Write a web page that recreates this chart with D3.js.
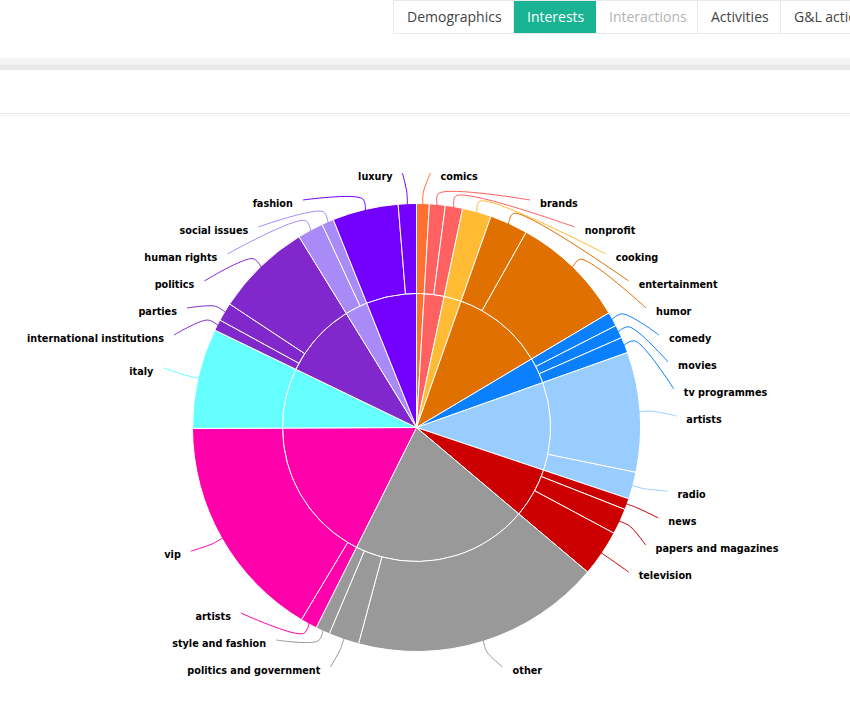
<!DOCTYPE html>
<html>
<head>
<meta charset="utf-8">
<script src="https://cdn.jsdelivr.net/npm/d3@7"></script>
<style>
  html, body { margin:0; padding:0; background:#fff; width:850px; height:718px; overflow:hidden; }
  #tabs { position:absolute; left:393px; top:0; height:32px; display:flex; border:1px solid #e7eaec; border-right:none; font-family:"Open Sans", sans-serif; font-size:14px; }
  #tabs div { box-sizing:border-box; height:32px; line-height:32px; padding-left:13px; border-right:1px solid #e7eaec; color:#444; white-space:nowrap; overflow:hidden; }
  #tabs div.active { background:#1ab394; color:#fff; border-right-color:#1ab394; }
  #tabs div.disabled { color:#b3b3b3; }
  #band1 { position:absolute; left:0; top:58px; width:850px; height:7px; background:#f3f3f4; }
  #band2 { position:absolute; left:0; top:65px; width:850px; height:5px; background:#e9e9ea; }
  #rule { position:absolute; left:0; top:113px; width:850px; height:1px; background:#e4e6e8; }
  #rule2 { position:absolute; left:0; top:115px; width:850px; height:1px; background:#f6f6f6; }
  svg { position:absolute; left:0; top:0; }
</style>
</head>
<body>
<div id="tabs"></div>
<div id="band1"></div><div id="band2"></div><div id="rule"></div><div id="rule2"></div>
<svg id="chart" width="850" height="718"></svg>
<script>
// ---- data ----
const tabNames = ["Demographics", "Interests", "Interactions", "Activities", "G&L actions"];
const tabWidths = [120, 82, 102, 83, 90];
const tabStates = ["", "active", "disabled", "", ""];

const groups = ["comics", "brands", "cooking", "entertainment", "tv", "music", "news", "other", "celebrities", "places", "politics", "society", "fashion"];
const groupColors = ["#ff7030", "#ff6060", "#ffbb33", "#e07000", "#0a80ff", "#99ccff", "#cc0000", "#999999", "#ff00aa", "#66ffff", "#8028cc", "#a98bf7", "#7300ff"];

const categories = ["comics", "brands", "nonprofit", "cooking", "entertainment", "humor",
  "comedy", "movies", "tv programmes", "artists", "radio", "news", "papers and magazines",
  "television", "other", "politics and government", "style and fashion", "artists", "vip",
  "italy", "international institutions", "parties", "politics", "human rights",
  "social issues", "fashion", "luxury"];
const values = [3.3, 4.1, 4.5, 7.5, 9.9, 29.9, 3.7, 3.4, 4.1, 31.1, 7.0, 2.9, 6.7, 12.0,
  64.8, 7.9, 3.7, 4.3, 58.8, 26.0, 2.9, 4.8, 24.9, 6.7, 3.1, 17.1, 4.7];
const groupOf = [0, 1, 1, 2, 3, 3, 4, 4, 4, 5, 5, 6, 6, 6, 7, 7, 7, 8, 8, 9, 10, 10, 10, 11, 11, 12, 12];

// ---- tabs ----
d3.select("#tabs").selectAll("div").data(tabNames).join("div")
  .attr("class", (d, i) => tabStates[i])
  .style("width", (d, i) => tabWidths[i] + "px")
  .text(d => d);

// ---- chart ----
const cx = 416.5, cy = 427.5, rInner = 134, rOuter = 224;
const svg = d3.select("#chart");
const g = svg.append("g").attr("transform", `translate(${cx},${cy})`);

const rootData = {
  name: "root",
  children: groups.map((gn, gi) => ({
    name: gn, gi,
    children: categories.map((c, i) => ({ name: c, value: values[i], gi: groupOf[i] })).filter(d => d.gi === gi)
  }))
};
const root = d3.hierarchy(rootData).sum(d => d.value || 0);
d3.partition().size([2 * Math.PI, 1])(root);

const arc = d3.arc()
  .startAngle(d => d.x0).endAngle(d => d.x1)
  .innerRadius(d => d.depth === 1 ? 0 : rInner)
  .outerRadius(d => d.depth === 1 ? rInner : rOuter);

const color = d => groupColors[d.depth === 1 ? d.data.gi : d.parent.data.gi];

g.selectAll("path.seg").data(root.descendants().filter(d => d.depth > 0)).join("path")
  .attr("class", "seg")
  .attr("d", arc)
  .attr("fill", color)
  .attr("stroke", "#fff")
  .attr("stroke-width", 1);

// ---- labels ----
const leaves = root.leaves().map(d => ({ node: d, name: d.data.name, mid: (d.x0 + d.x1) / 2 }));
leaves.forEach(l => { l.right = l.mid < Math.PI; l.y = cy - 256 * Math.cos(l.mid); });
const spacing = 27, yMin = 176, yMax = 670;
function layout(list) {
  for (let i = 0; i < list.length; i++) {
    const prev = i > 0 ? list[i - 1].y + spacing : yMin;
    list[i].y = Math.max(list[i].y, prev, yMin);
  }
  for (let i = list.length - 1; i >= 0; i--) {
    const next = i < list.length - 1 ? list[i + 1].y - spacing : yMax;
    list[i].y = Math.min(list[i].y, next, yMax);
  }
}
const rightList = leaves.filter(l => l.right).sort((a, b) => a.mid - b.mid);
const leftList = leaves.filter(l => !l.right).sort((a, b) => b.mid - a.mid);
layout(rightList); layout(leftList);

leaves.forEach(l => {
  const dy = l.y - cy;
  const b = dy < 0 ? 252.5 : 259.5;
  const dx = 270 * Math.sqrt(Math.max(0, 1 - (dy / b) * (dy / b)));
  l.tx = l.right ? cx + dx : cx - dx;
  l.ex = l.right ? cx + dx - 10 : cx - dx + 10;
  l.ey = l.y - 3;
});

const pt = (a, r) => [cx + r * Math.sin(a), cy - r * Math.cos(a)];
const line = d3.line().curve(d3.curveCatmullRom.alpha(0.5));

svg.append("g").selectAll("path").data(leaves).join("path")
  .attr("d", l => line([pt(l.mid, rOuter - 1), pt(l.mid, 235), [l.ex, l.ey]]))
  .attr("fill", "none")
  .attr("stroke", l => color(l.node))
  .attr("stroke-width", 1);

const labels = svg.append("g")
  .attr("font-family", "'DejaVu Sans', Verdana, sans-serif")
  .attr("font-weight", "bold")
  .attr("font-size", 11)
  .attr("fill", "#000");

const texts = labels.selectAll("text").data(leaves).join("text")
  .attr("x", l => l.tx)
  .attr("y", l => l.y)
  .attr("dy", "0.35em")
  .attr("text-anchor", l => l.right ? "start" : "end")
  .text(l => l.name);

// condense glyphs so the widest label matches the reference width
const probe = texts.filter(l => l.name === "international institutions").node();
const w = probe.getComputedTextLength();
const f = w > 0 ? 137 / w : 1;
if (f < 1) {
  texts.each(function () {
    const len = this.getComputedTextLength();
    d3.select(this).attr("textLength", (len * f).toFixed(2)).attr("lengthAdjust", "spacingAndGlyphs");
  });
} else if (w > 0) {
  labels.attr("font-size", (11 * f).toFixed(2));
}
</script>
</body>
</html>
